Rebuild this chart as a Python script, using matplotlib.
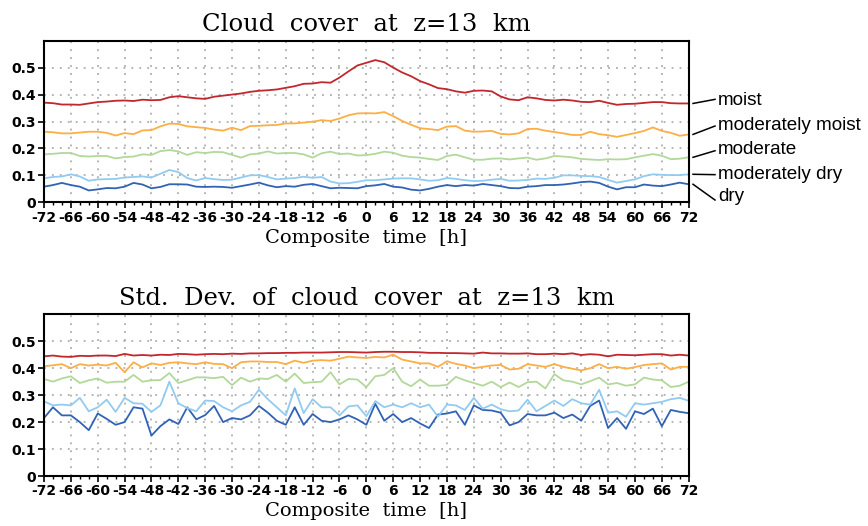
import numpy as np
import matplotlib
matplotlib.use("Agg")
import matplotlib.pyplot as plt
from matplotlib.lines import Line2D

plt.rcParams['axes.unicode_minus'] = False

# ---------------- data ----------------
hours = np.arange(-72, 73, 2)
xtick_vals = list(range(-72, 73, 6))
xtick_labels = [str(v) for v in xtick_vals]
ytick_vals = [0, 0.1, 0.2, 0.3, 0.4, 0.5]
ytick_labels = ["0", "0.1", "0.2", "0.3", "0.4", "0.5"]

categories = ["moist", "moderately moist", "moderate", "moderately dry", "dry"]
colors = ["#c1272d", "#fdae45", "#b2d89a", "#92cbf1", "#3063b5"]

cc_moist = [0.370,0.368,0.363,0.363,0.362,0.367,0.372,0.374,0.377,0.378,
            0.376,0.381,0.379,0.380,0.390,0.394,0.390,0.386,0.384,0.392,
            0.396,0.400,0.404,0.410,0.414,0.416,0.419,0.425,0.431,0.440,
            0.441,0.446,0.444,0.463,0.486,0.508,0.518,0.528,0.520,0.500,
            0.482,0.468,0.450,0.438,0.424,0.420,0.412,0.407,0.414,0.415,
            0.412,0.393,0.382,0.379,0.390,0.386,0.380,0.378,0.381,0.378,
            0.373,0.372,0.377,0.369,0.362,0.365,0.366,0.369,0.372,0.372,
            0.368,0.367,0.367]
cc_modmoist = [0.262,0.260,0.256,0.256,0.259,0.262,0.262,0.258,0.248,0.257,
               0.253,0.267,0.268,0.282,0.292,0.291,0.282,0.279,0.276,0.270,
               0.266,0.277,0.268,0.283,0.284,0.286,0.287,0.293,0.293,0.296,
               0.299,0.305,0.302,0.311,0.323,0.330,0.331,0.330,0.335,0.320,
               0.302,0.288,0.275,0.272,0.268,0.281,0.283,0.266,0.262,0.263,
               0.265,0.254,0.252,0.256,0.272,0.273,0.266,0.261,0.256,0.250,
               0.250,0.262,0.253,0.249,0.243,0.250,0.257,0.265,0.278,0.265,
               0.258,0.247,0.252]
cc_moderate = [0.178,0.180,0.183,0.183,0.172,0.170,0.172,0.172,0.163,0.168,
               0.170,0.178,0.176,0.190,0.194,0.189,0.176,0.186,0.183,0.187,
               0.186,0.176,0.166,0.178,0.181,0.189,0.181,0.183,0.183,0.178,
               0.166,0.182,0.188,0.179,0.181,0.174,0.175,0.180,0.188,0.184,
               0.173,0.168,0.166,0.161,0.157,0.172,0.177,0.167,0.158,0.158,
               0.162,0.163,0.159,0.163,0.166,0.158,0.163,0.172,0.170,0.167,
               0.161,0.159,0.157,0.160,0.159,0.160,0.167,0.173,0.179,0.173,
               0.160,0.162,0.167]
cc_moddry = [0.089,0.094,0.096,0.104,0.096,0.080,0.085,0.086,0.087,0.092,
             0.094,0.096,0.092,0.106,0.120,0.112,0.090,0.081,0.090,0.086,
             0.083,0.084,0.092,0.100,0.101,0.094,0.085,0.088,0.090,0.095,
             0.091,0.094,0.077,0.070,0.071,0.076,0.082,0.082,0.085,0.088,
             0.089,0.089,0.085,0.080,0.082,0.090,0.087,0.082,0.079,0.080,
             0.084,0.087,0.080,0.081,0.083,0.088,0.087,0.091,0.100,0.100,
             0.098,0.097,0.094,0.083,0.073,0.079,0.085,0.097,0.104,0.102,
             0.101,0.101,0.104]
cc_dry = [0.058,0.064,0.072,0.064,0.058,0.044,0.048,0.053,0.052,0.058,
          0.072,0.066,0.052,0.057,0.067,0.067,0.066,0.058,0.057,0.058,
          0.057,0.054,0.060,0.066,0.073,0.063,0.056,0.060,0.058,0.065,
          0.068,0.060,0.052,0.054,0.053,0.052,0.060,0.063,0.068,0.058,
          0.055,0.047,0.044,0.050,0.058,0.064,0.060,0.064,0.062,0.068,
          0.064,0.060,0.053,0.052,0.058,0.060,0.064,0.064,0.066,0.070,
          0.075,0.077,0.072,0.058,0.048,0.056,0.056,0.066,0.062,0.060,
          0.066,0.073,0.067]

sd_moist = [0.444,0.447,0.443,0.442,0.446,0.445,0.447,0.447,0.445,0.453,
            0.447,0.449,0.447,0.450,0.449,0.453,0.452,0.450,0.452,0.453,
            0.452,0.454,0.453,0.455,0.455,0.456,0.456,0.457,0.457,0.458,
            0.458,0.458,0.459,0.460,0.460,0.459,0.458,0.460,0.461,0.461,
            0.460,0.460,0.459,0.457,0.457,0.456,0.456,0.455,0.454,0.458,
            0.455,0.455,0.454,0.454,0.455,0.452,0.452,0.454,0.452,0.455,
            0.449,0.452,0.450,0.444,0.450,0.449,0.448,0.450,0.452,0.452,
            0.447,0.450,0.447]
sd_modmoist = [0.407,0.411,0.415,0.400,0.415,0.410,0.413,0.410,0.420,0.385,
               0.422,0.403,0.418,0.412,0.420,0.422,0.418,0.415,0.422,0.416,
               0.415,0.400,0.422,0.425,0.425,0.423,0.423,0.415,0.428,0.420,
               0.428,0.430,0.428,0.435,0.443,0.440,0.438,0.442,0.440,0.450,
               0.432,0.425,0.418,0.418,0.405,0.426,0.416,0.410,0.400,0.405,
               0.410,0.412,0.395,0.398,0.415,0.410,0.405,0.415,0.405,0.398,
               0.392,0.400,0.415,0.400,0.405,0.398,0.404,0.412,0.415,0.418,
               0.395,0.405,0.405]
sd_moderate = [0.360,0.350,0.362,0.370,0.345,0.355,0.362,0.346,0.350,0.350,
               0.375,0.350,0.355,0.356,0.382,0.345,0.355,0.366,0.366,0.363,
               0.368,0.337,0.365,0.350,0.362,0.360,0.375,0.350,0.380,0.345,
               0.348,0.350,0.385,0.340,0.360,0.358,0.330,0.370,0.375,0.400,
               0.350,0.333,0.358,0.335,0.335,0.338,0.368,0.355,0.345,0.335,
               0.350,0.330,0.347,0.330,0.348,0.350,0.325,0.378,0.355,0.350,
               0.340,0.352,0.365,0.340,0.345,0.335,0.340,0.365,0.358,0.355,
               0.330,0.335,0.350]
sd_moddry = [0.277,0.262,0.265,0.262,0.290,0.240,0.255,0.283,0.238,0.290,
             0.270,0.268,0.238,0.262,0.350,0.270,0.252,0.240,0.280,0.278,
             0.255,0.240,0.262,0.275,0.320,0.285,0.255,0.225,0.325,0.233,
             0.285,0.255,0.255,0.225,0.258,0.262,0.222,0.278,0.255,0.265,
             0.255,0.270,0.255,0.265,0.220,0.265,0.262,0.245,0.290,0.250,
             0.265,0.248,0.240,0.243,0.283,0.240,0.260,0.280,0.260,0.285,
             0.270,0.265,0.320,0.235,0.240,0.220,0.270,0.265,0.270,0.275,
             0.285,0.290,0.279]
sd_dry = [0.215,0.255,0.225,0.225,0.200,0.170,0.232,0.212,0.190,0.200,
          0.255,0.250,0.150,0.185,0.210,0.193,0.255,0.210,0.226,0.260,
          0.200,0.215,0.210,0.225,0.260,0.235,0.205,0.190,0.255,0.190,
          0.230,0.205,0.200,0.210,0.225,0.210,0.190,0.268,0.205,0.230,
          0.200,0.215,0.195,0.178,0.228,0.232,0.240,0.190,0.262,0.245,
          0.243,0.235,0.188,0.200,0.230,0.225,0.225,0.235,0.215,0.228,
          0.205,0.260,0.280,0.178,0.215,0.175,0.240,0.230,0.250,0.185,
          0.245,0.238,0.233]

top_series = [cc_moist, cc_modmoist, cc_moderate, cc_moddry, cc_dry]
bot_series = [sd_moist, sd_modmoist, sd_moderate, sd_moddry, sd_dry]

# ---------------- figure ----------------
fig = plt.figure(figsize=(8.68, 5.26), dpi=100)
W, H = 868, 526
def ax_rect(l, t, r, b):
    return [l / W, 1 - b / H, (r - l) / W, (b - t) / H]

ax1 = fig.add_axes(ax_rect(44, 40.7, 688.7, 202.3))
ax2 = fig.add_axes(ax_rect(44, 314.3, 688.7, 476))

titles = ["Cloud  cover  at  z=13  km", "Std.  Dev.  of  cloud  cover  at  z=13  km"]
serif = ['DejaVu Serif']

for ax, series, title in zip([ax1, ax2], [top_series, bot_series], titles):
    for vals, c in zip(series[::-1], colors[::-1]):
        ax.plot(hours, vals, color=c, lw=1.3, solid_joinstyle='round')
    ax.set_xlim(-72, 72)
    ax.set_ylim(0, 0.6)
    ax.set_xticks(xtick_vals)
    ax.set_xticklabels(xtick_labels)
    ax.set_yticks(ytick_vals)
    ax.set_yticklabels(ytick_labels)
    ax.set_xticks(np.arange(-72, 73, 2), minor=True)
    ax.tick_params(axis='both', which='major', direction='out', length=4,
                   width=1.2, labelsize=10, pad=2)
    ax.tick_params(axis='x', which='minor', direction='out', length=2.5, width=1)
    for lab in ax.get_xticklabels() + ax.get_yticklabels():
        lab.set_fontweight('bold')
        lab.set_family('DejaVu Sans')
    ax.grid(True, which='major', color='#a0a0a0', linestyle=(0, (1.2, 4)), lw=1.1)
    for sp in ax.spines.values():
        sp.set_linewidth(1.5)
    ax.set_title(title, family=serif, fontsize=17.5, pad=7)
    ax.set_xlabel("Composite  time  [h]", family=serif, fontsize=14, labelpad=3)

# labels with connector lines on the top panel
label_y = [0.633, 0.478, 0.324, 0.175, 0.033]
line_end_y = [0.637, 0.472, 0.319, 0.171, 0.014]
for name, vals, ly, ey in zip(categories, top_series, label_y, line_end_y):
    y0 = vals[-1]
    y0_ax = ax1.transAxes.inverted().transform(ax1.transData.transform((72, y0)))[1]
    ax1.add_line(Line2D([1.0067, 1.0408], [y0_ax, ey], transform=ax1.transAxes,
                        color='black', lw=1.1, clip_on=False))
    ax1.text(1.0454, ly, name, transform=ax1.transAxes, ha='left', va='center',
             fontsize=13.6, family='Liberation Sans')

fig.savefig("out.png", dpi=100)
